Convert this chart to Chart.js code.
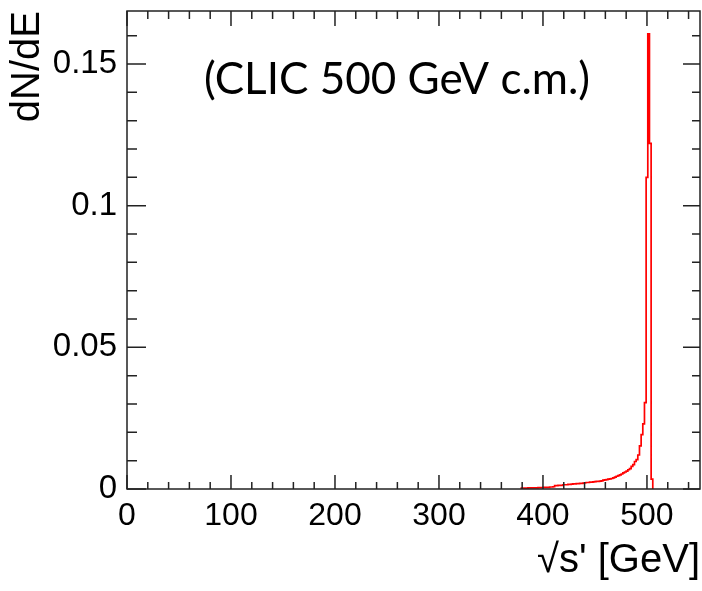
<!DOCTYPE html>
<html>
<head>
<meta charset="utf-8">
<script src="https://cdn.jsdelivr.net/npm/chart.js@4.4.1/dist/chart.umd.min.js"></script>
<style>
  html, body { margin: 0; padding: 0; background: #fff; }
  canvas { display: block; }
</style>
</head>
<body>
<canvas id="spectrum" width="702" height="591"></canvas>
<script>
// lower bin edges in GeV (1.6 GeV bins), only the non-empty part of the histogram
const binLow = [
  379.2, 380.8, 382.4, 384.0, 385.6, 387.2, 388.8, 390.4, 392.0, 393.6,
  395.2, 396.8, 398.4, 400.0, 401.6, 403.2, 404.8, 406.4, 408.0, 409.6,
  411.2, 412.8, 414.4, 416.0, 417.6, 419.2, 420.8, 422.4, 424.0, 425.6,
  427.2, 428.8, 430.4, 432.0, 433.6, 435.2, 436.8, 438.4, 440.0, 441.6,
  443.2, 444.8, 446.4, 448.0, 449.6, 451.2, 452.8, 454.4, 456.0, 457.6,
  459.2, 460.8, 462.4, 464.0, 465.6, 467.2, 468.8, 470.4, 472.0, 473.6,
  475.2, 476.8, 478.4, 480.0, 481.6, 483.2, 484.8, 486.4, 488.0, 489.6,
  491.2, 492.8, 494.4, 496.0, 497.6, 499.2, 500.8, 502.4, 504.0
];
const binHigh = 505.6;

const dNdE = [
  0.0003, 0.0003, 0.0003, 0.0003, 0.0004, 0.0004, 0.0004, 0.0004, 0.0004, 0.0004,
  0.0005, 0.0005, 0.0005, 0.0006, 0.0006, 0.0006, 0.0006, 0.0007, 0.0007, 0.0008,
  0.0012, 0.0012, 0.0013, 0.0013, 0.0013, 0.0015, 0.0015, 0.0015, 0.0016, 0.0016,
  0.0017, 0.0018, 0.0018, 0.0019, 0.0019, 0.0020, 0.0020, 0.0021, 0.0022, 0.0023,
  0.0023, 0.0024, 0.0024, 0.0025, 0.0026, 0.0027, 0.0027, 0.0028, 0.0029, 0.0031,
  0.0032, 0.0033, 0.0035, 0.0036, 0.0037, 0.0039, 0.0042, 0.0045, 0.0047, 0.0050,
  0.0053, 0.0057, 0.0060, 0.0063, 0.0068, 0.0072, 0.0080, 0.0086, 0.0097, 0.0104,
  0.0120, 0.0152, 0.0192, 0.0230, 0.0305, 0.1100, 0.1606, 0.1220, 0.0035
];

const xTickLabels = [0, 100, 200, 300, 400, 500];
const yTickLabels = [0, 0.05, 0.1, 0.15];
const xRange = [0, 551];
const yRange = [0, 0.1687];

// minor ticks every 20 GeV and every 0.01
const xMinor = [];
for (let v = 20; v < xRange[1]; v += 20) xMinor.push(v);
const yMinor = [];
for (let i = 1; i <= 16; i++) yMinor.push(i / 100);

// histogram outline: start on the axis, one point per bin, close back to the axis
const outline = [{ x: binLow[0], y: 0 }]
  .concat(binLow.map((x, i) => ({ x, y: dNdE[i] })))
  .concat([{ x: binHigh, y: 0 }]);

const AXIS_FONT = "'Liberation Sans', Arial, sans-serif";

// ROOT style frame with ticks pointing inwards, plus the beam label
const frameTicks = {
  id: 'frameTicks',
  afterDatasetsDraw(chart) {
    const { ctx, chartArea: a, scales: { x, y } } = chart;
    ctx.save();
    ctx.strokeStyle = '#222';
    ctx.lineWidth = 1.5;
    ctx.beginPath();
    const xTicks = xMinor.filter(v => !xTickLabels.includes(v)).map(v => [v, 7, 8])
      .concat(xTickLabels.map(v => [v, 14, 15]));
    xTicks.forEach(([v, lb, lt]) => {
      const px = x.getPixelForValue(v);
      ctx.moveTo(px, a.bottom); ctx.lineTo(px, a.bottom - lb);
      ctx.moveTo(px, a.top); ctx.lineTo(px, a.top + lt);
    });
    const yTicks = yMinor.filter(v => !yTickLabels.some(t => Math.abs(t - v) < 1e-9)).map(v => [v, 10, 8])
      .concat(yTickLabels.map(v => [v, 19, 17]));
    yTicks.forEach(([v, ll, lr]) => {
      const py = y.getPixelForValue(v);
      ctx.moveTo(a.left, py); ctx.lineTo(a.left + ll, py);
      ctx.moveTo(a.right, py); ctx.lineTo(a.right - lr, py);
    });
    ctx.stroke();
    ctx.strokeRect(a.left, a.top, a.right - a.left, a.bottom - a.top);

    ctx.fillStyle = '#000';
    ctx.font = "44px Lato, 'Open Sans', sans-serif";
    ctx.textAlign = 'center';
    ctx.textBaseline = 'alphabetic';
    ctx.fillText('(CLIC 500 GeV c.m.)', 397, 94);
    ctx.restore();
  }
};

new Chart(document.getElementById('spectrum'), {
  type: 'line',
  data: {
    datasets: [{
      data: outline,
      stepped: 'before',
      borderColor: '#ff0000',
      borderWidth: 1.7,
      pointRadius: 0,
      fill: false
    }]
  },
  options: {
    responsive: false,
    animation: false,
    layout: { padding: { top: 11, right: 2, left: 0, bottom: 0 } },
    plugins: { legend: { display: false }, tooltip: { enabled: false } },
    scales: {
      x: {
        type: 'linear',
        min: xRange[0], max: xRange[1],
        afterFit: s => { s.height = 102; s.paddingLeft = 0; s.paddingRight = 0; },
        afterBuildTicks: s => { s.ticks = xTickLabels.map(v => ({ value: v })); },
        grid: { display: false, drawTicks: false },
        border: { display: false },
        ticks: {
          padding: 8,
          color: '#000',
          font: { family: AXIS_FONT, size: 32 },
          maxRotation: 0,
          callback: v => String(v)
        },
        title: {
          display: true,
          text: "\u221As' [GeV]",
          align: 'end',
          color: '#000',
          font: { family: AXIS_FONT, size: 40 },
          padding: { top: 0, bottom: 6 }
        }
      },
      y: {
        type: 'linear',
        min: yRange[0], max: yRange[1],
        afterFit: s => { s.width = 127; s.paddingTop = 0; s.paddingBottom = 0; },
        afterBuildTicks: s => { s.ticks = yTickLabels.map(v => ({ value: v })); },
        grid: { display: false, drawTicks: false },
        border: { display: false },
        ticks: {
          padding: 10,
          color: '#000',
          font: { family: AXIS_FONT, size: 33 },
          callback: v => String(v)
        },
        title: {
          display: true,
          text: 'dN/dE',
          align: 'end',
          color: '#000',
          font: { family: AXIS_FONT, size: 40 },
          padding: { top: 4, bottom: 0 }
        }
      }
    }
  },
  plugins: [frameTicks]
});
</script>
</body>
</html>
